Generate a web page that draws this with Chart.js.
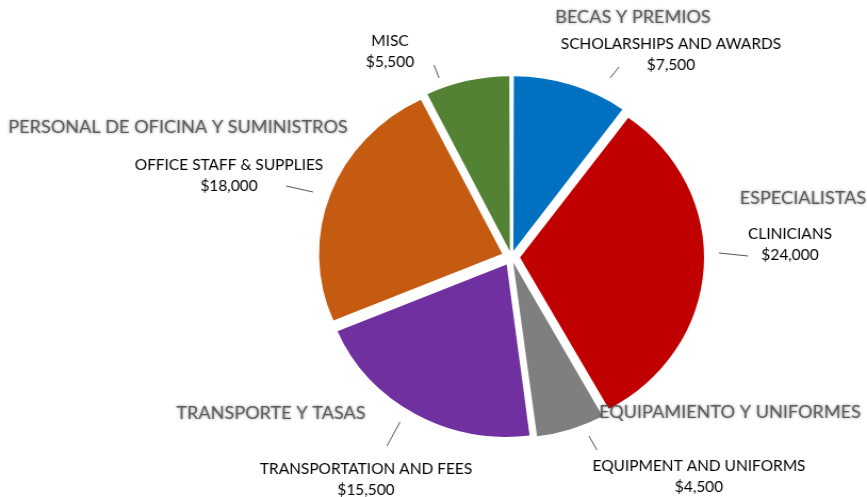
<!DOCTYPE html>
<html>
<head>
<meta charset="utf-8">
<script src="https://cdn.jsdelivr.net/npm/chart.js@4/dist/chart.umd.min.js"></script>
<style>
  html, body { margin: 0; padding: 0; background: #fff; overflow: hidden; }
</style>
</head>
<body>
<canvas id="grafico" width="814" height="497" style="width:867px;height:497px;display:block"></canvas>
<script>
// Datos del gráfico
const categorias = ['SCHOLARSHIPS AND AWARDS', 'CLINICIANS', 'EQUIPMENT AND UNIFORMS', 'TRANSPORTATION AND FEES', 'OFFICE STAFF & SUPPLIES', 'MISC'];
const categoriasEs = ['BECAS Y PREMIOS', 'ESPECIALISTAS', 'EQUIPAMIENTO Y UNIFORMES', 'TRANSPORTE Y TASAS', 'PERSONAL DE OFICINA Y SUMINISTROS', ''];
const montos = [7500, 24000, 4500, 15500, 18000, 5500];
const colores = ['#0070C0', '#C00000', '#7F7F7F', '#7030A0', '#C55A11', '#548235'];

// La imagen original está algo estirada a lo ancho
const ESTIRAR = 867 / 814;
const DESPLAZAMIENTO = 9; // separación de cada porción

// Posición de cada etiqueta (px de pantalla): texto, línea guía y texto en español
const posiciones = [
    { x: 671, y: 44, linea: [610, 78, 619, 67], es: [633, 18] },
    { x: 790, y: 234, linea: [719, 253, 748, 256], es: [803, 199] },
    { x: 699, y: 466, linea: [589, 436, 597, 450], es: [730, 413] },
    { x: 366, y: 469, linea: [400, 422, 387, 446], es: [271, 414] },
    { x: 229, y: 165, linea: [286, 186, 313, 192], es: [178, 128] },
    { x: 390, y: 41, linea: [434, 65, 439, 78] }
];

const total = montos.reduce((a, b) => a + b, 0);
const formato = n => '$' + n.toLocaleString('en-US');

const etiquetasPlugin = {
    id: 'etiquetas',
    afterDraw(chart) {
        const ctx = chart.ctx;
        ctx.save();
        ctx.textAlign = 'center';
        ctx.textBaseline = 'middle';
        posiciones.forEach((p, i) => {
            // texto en español, gris y difuminado
            if (p.es && categoriasEs[i]) {
                ctx.save();
                ctx.font = '17px Lato';
                ctx.fillStyle = '#5b5b5b';
                ctx.shadowColor = 'rgba(0,0,0,0.45)';
                ctx.shadowBlur = 3;
                ctx.fillText(categoriasEs[i], p.es[0] / ESTIRAR, p.es[1]);
                ctx.restore();
            }
            ctx.font = '14.5px Lato';
            ctx.fillStyle = '#000';
            ctx.fillText(categorias[i], p.x / ESTIRAR, p.y);
            ctx.fillText(formato(montos[i]), p.x / ESTIRAR, p.y + 21);
            // línea guía
            ctx.strokeStyle = '#555';
            ctx.lineWidth = 1;
            ctx.beginPath();
            ctx.moveTo(p.linea[0] / ESTIRAR, p.linea[1]);
            ctx.lineTo(p.linea[2] / ESTIRAR, p.linea[3]);
            ctx.stroke();
        });
        ctx.restore();
    }
};

new Chart(document.getElementById('grafico'), {
    type: 'pie',
    data: {
        labels: categorias,
        datasets: [{
            data: montos,
            backgroundColor: colores,
            borderWidth: 0,
            // Chart.js mueve la porción offset/4 (+ extra si es pequeña); se compensa
            offset: c => {
                const ang = c.dataset.data[c.dataIndex] / total * 2 * Math.PI;
                return 4 * DESPLAZAMIENTO / (2 - Math.sin(Math.min(Math.PI, ang)));
            },
            hoverOffset: 0
        }]
    },
    options: {
        responsive: false,
        animation: false,
        radius: 172,
        layout: { padding: { left: 166, right: 20, top: 27, bottom: 10 } },
        plugins: {
            legend: { display: false },
            tooltip: { enabled: false }
        }
    },
    plugins: [etiquetasPlugin]
});
</script>
</body>
</html>
